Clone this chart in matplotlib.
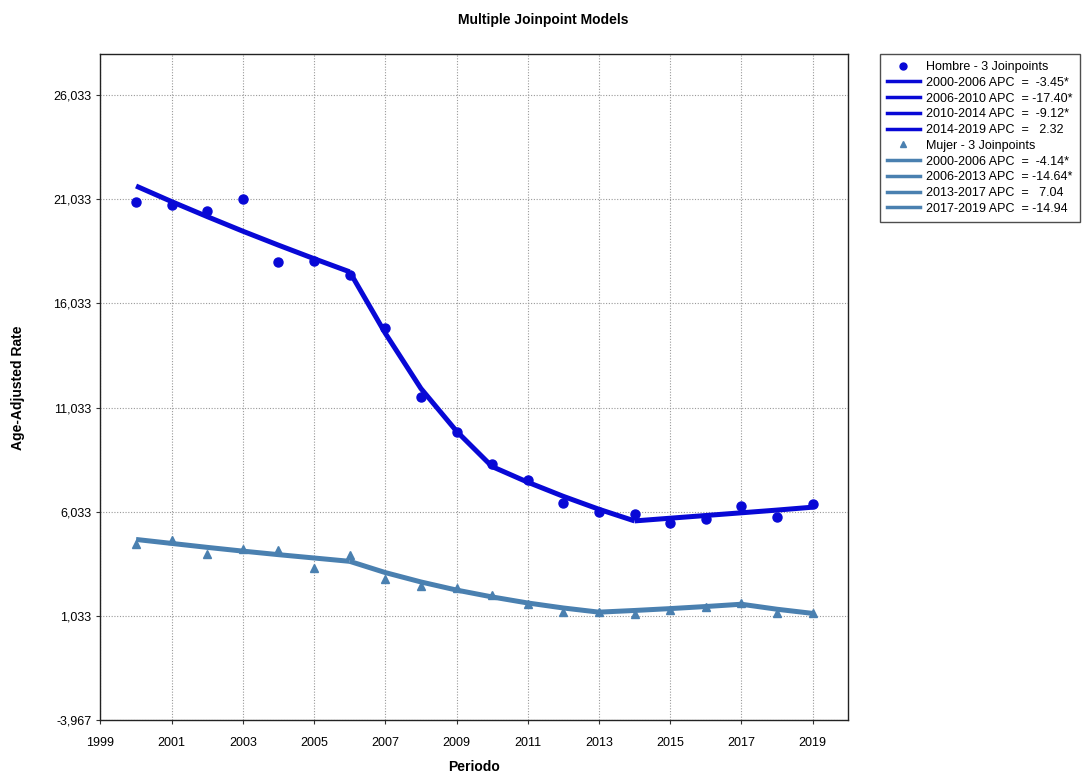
import matplotlib.pyplot as plt
from matplotlib.lines import Line2D
from matplotlib.ticker import FuncFormatter

# Jahre und beobachtete Raten
anios = list(range(2000, 2020))
hombre_obs = [20900, 20760, 20470, 21050, 18030, 18070, 17400, 14860, 11550, 9870,
              8330, 7560, 6460, 6030, 5930, 5500, 5690, 6310, 5790, 6410]
mujer_obs = [4490, 4650, 4010, 4240, 4170, 3320, 3960, 2800, 2470, 2360,
             2030, 1610, 1210, 1230, 1120, 1320, 1450, 1640, 1160, 1160]

# Modellwerte (Joinpoint-Anpassung)
hombre_fit = [21670, 20920, 20200, 19500, 18830, 18180, 17550, 14600, 11950, 9900,
              8200, 7450, 6770, 6150, 5590, 5720, 5850, 5980, 6110, 6250]
mujer_fit = [4700, 4510, 4320, 4140, 3970, 3810, 3650, 3110, 2660, 2270,
             1940, 1650, 1410, 1210, 1290, 1380, 1480, 1590, 1350, 1150]

# Joinpoint-Segmente (Start, Ende) und Legendentexte
hombre_seg = [(2000, 2006), (2006, 2010), (2010, 2014), (2014, 2019)]
hombre_txt = ["2000-2006 APC  =  -3.45*", "2006-2010 APC  = -17.40*",
              "2010-2014 APC  =  -9.12*", "2014-2019 APC  =   2.32"]
mujer_seg = [(2000, 2006), (2006, 2013), (2013, 2017), (2017, 2019)]
mujer_txt = ["2000-2006 APC  =  -4.14*", "2006-2013 APC  = -14.64*",
             "2013-2017 APC  =   7.04", "2017-2019 APC  = -14.94"]

y_ticks = [-3967, 1033, 6033, 11033, 16033, 21033, 26033]
x_ticks = list(range(1999, 2020, 2))

farbe_h = "#0808D6"
farbe_m = "#4A80B0"

plt.rcParams['font.family'] = ['Liberation Sans', 'DejaVu Sans']

fig = plt.figure(figsize=(10.86, 7.76), dpi=100)
ax = fig.add_axes([0.0925, 0.0722, 0.6885, 0.858])


def zeichne_segmente(seg, fit, farbe):
    for a, b in seg:
        i, j = anios.index(a), anios.index(b)
        ax.plot(anios[i:j + 1], fit[i:j + 1], color=farbe, lw=3.6,
                solid_capstyle='butt', solid_joinstyle='round', zorder=3)


zeichne_segmente(hombre_seg, hombre_fit, farbe_h)
zeichne_segmente(mujer_seg, mujer_fit, farbe_m)
ax.plot(anios, hombre_obs, 'o', color=farbe_h, ms=6.5, zorder=4)
ax.plot(anios, mujer_obs, '^', color=farbe_m, ms=6, zorder=4)

ax.set_xlim(1999, 2020)
ax.set_ylim(-3967, 28000)
ax.set_xticks(x_ticks)
ax.set_yticks(y_ticks)
ax.yaxis.set_major_formatter(FuncFormatter(lambda v, p: f"{int(v):,}"))
ax.tick_params(labelsize=9, length=3, color='#333333')
ax.tick_params(axis='x', pad=9)
ax.grid(True, ls=(0, (1, 1.5)), color='#999999', lw=0.8)
for s in ax.spines.values():
    s.set_color('#222222')
    s.set_linewidth(1.0)

ax.set_xlabel("Periodo", fontweight='bold', fontsize=10, labelpad=8)
fig.text(18 / 1086, 0.5, "Age-Adjusted Rate", rotation=90, ha='center', va='center',
         fontweight='bold', fontsize=10)
fig.text(0.5, 0.974, "Multiple Joinpoint Models", ha='center', va='center',
         fontweight='bold', fontsize=10)

# Legende
handles = [Line2D([], [], ls='', marker='o', color=farbe_h, ms=5)]
handles += [Line2D([], [], color=farbe_h, lw=2.5) for _ in hombre_txt]
handles += [Line2D([], [], ls='', marker='^', color=farbe_m, ms=5)]
handles += [Line2D([], [], color=farbe_m, lw=2.5) for _ in mujer_txt]
labels = ["Hombre - 3 Joinpoints"] + hombre_txt + ["Mujer - 3 Joinpoints"] + mujer_txt
leg = fig.legend(handles, labels, loc='upper left', bbox_to_anchor=(0.81, 0.931),
                 fontsize=9, frameon=True, fancybox=False, edgecolor='#222222',
                 handlelength=2.6, handletextpad=0.5, labelspacing=0.3,
                 borderpad=0.6, borderaxespad=0)
leg.get_frame().set_linewidth(1.0)

fig.savefig("out.png", dpi=100)
